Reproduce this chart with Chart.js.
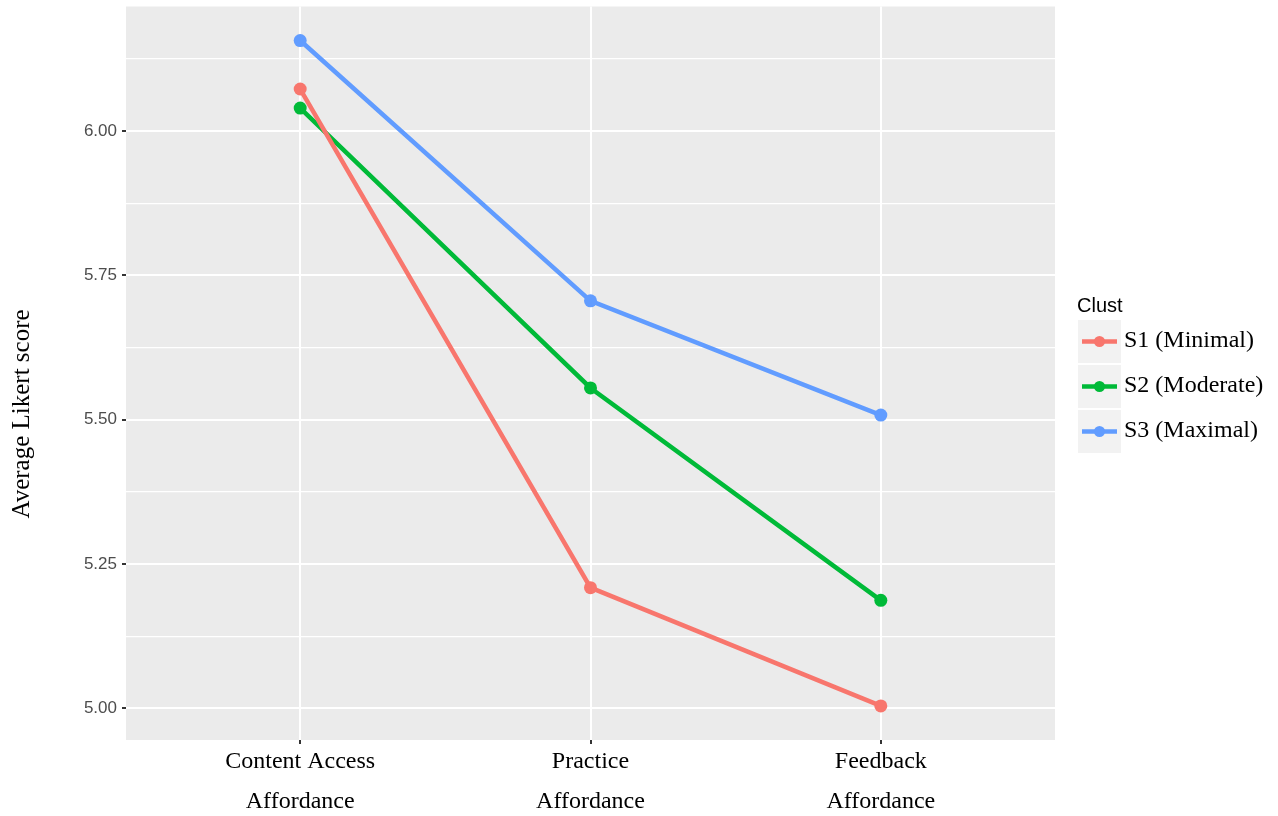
<!DOCTYPE html>
<html><head><meta charset="utf-8">
<script src="https://cdn.jsdelivr.net/npm/chart.js@4/dist/chart.umd.min.js"></script>
<style>html,body{margin:0;padding:0;background:#fff;}#wrap{width:1278px;height:816px;}</style>
</head><body><div id="wrap"><canvas id="c" width="1278" height="816"></canvas></div>
<script>
const categories = [["Content Access","Affordance"],["Practice","Affordance"],["Feedback","Affordance"]];
const seriesNames = ["S1 (Minimal)","S2 (Moderate)","S3 (Maximal)"];
const s1 = [6.073, 5.209, 5.004];
const s2 = [6.040, 5.555, 5.187];
const s3 = [6.157, 5.706, 5.508];
const yMajor = [5.00, 5.25, 5.50, 5.75, 6.00];
const yMinor = [5.125, 5.375, 5.625, 5.875, 6.125];
const yTitle = "Average Likert score";
const legendTitle = "Clust";
const colors = ["#F8766D","#00BA38","#619CFF"];

const allY = yMajor.concat(yMinor).sort((a,b)=>a-b);
const isMajor = (c)=>c.tick && yMajor.some(m=>Math.abs(m-c.tick.value)<1e-9);
const mk = (vals,i)=>({label:seriesNames[i],data:vals.map((v,k)=>({x:k+1,y:v})),borderColor:colors[i],backgroundColor:colors[i],borderWidth:4.5,pointRadius:6.5,pointHoverRadius:6.5,pointBorderWidth:0,tension:0});
const serif = '"Liberation Serif", "Times New Roman", serif';
const sans = '"Liberation Sans", Arial, sans-serif';

const panelBg = {id:'panelBg',beforeDraw(chart){const {ctx,chartArea:a}=chart;ctx.save();ctx.fillStyle='#EBEBEB';ctx.fillRect(a.left,a.top,a.right-a.left,a.bottom-a.top);ctx.restore();}};
const extras = {id:'extras',afterDraw(chart){const ctx=chart.ctx;ctx.save();
 // y-axis title
 ctx.save();ctx.translate(22,414);ctx.rotate(-Math.PI/2);ctx.fillStyle='#000';ctx.font='25px '+serif;ctx.textAlign='center';ctx.textBaseline='middle';ctx.fillText(yTitle,0,0);ctx.restore();
 // legend
 ctx.fillStyle='#000';ctx.font='20px '+sans;ctx.textBaseline='alphabetic';ctx.textAlign='left';ctx.fillText(legendTitle,1077,312);
 const tops=[320,365,410];
 chart.data.datasets.forEach((ds,i)=>{const t=tops[i];ctx.fillStyle='#F2F2F2';ctx.fillRect(1078,t,43,43);
  const cy=t+21.5;ctx.strokeStyle=ds.borderColor;ctx.lineWidth=4.5;ctx.beginPath();ctx.moveTo(1082,cy);ctx.lineTo(1117,cy);ctx.stroke();
  ctx.fillStyle=ds.borderColor;ctx.beginPath();ctx.arc(1099.5,cy,5.5,0,Math.PI*2);ctx.fill();
  ctx.fillStyle='#000';ctx.font='24px '+serif;ctx.textBaseline='middle';ctx.fillText(ds.label,1124,cy-1);});
 ctx.restore();}};

new Chart(document.getElementById('c'),{type:'line',
 data:{datasets:[mk(s1,0),mk(s2,1),mk(s3,2)]},
 options:{responsive:false,animation:false,
  layout:{padding:{top:5,right:223,left:0,bottom:0}},
  plugins:{legend:{display:false},tooltip:{enabled:false}},
  scales:{
   x:{type:'linear',min:0.4,max:3.6,
    afterBuildTicks(s){s.ticks=[1,2,3].map(v=>({value:v}));},
    afterFit(s){s.height=76;s.paddingLeft=0;s.paddingRight=0;},
    grid:{color:'#FFFFFF',lineWidth:2,drawTicks:true,tickLength:4,tickColor:'#333333'},
    border:{display:false},
    ticks:{color:'#000',padding:-2,maxRotation:0,autoSkip:false,font:{family:serif,size:24,lineHeight:40/24},
     callback:(v)=>categories[v-1]}},
   y:{type:'linear',min:4.945,max:6.216,
    afterBuildTicks(s){s.ticks=allY.map(v=>({value:v}));},
    afterFit(s){s.width=126;s.paddingTop=0;s.paddingBottom=0;},
    grid:{color:'#FFFFFF',lineWidth:(c)=>isMajor(c)?2:1.2,tickLength:4,tickColor:(c)=>isMajor(c)?'#333333':'rgba(0,0,0,0)'},
    border:{display:false},
    ticks:{color:'#4D4D4D',padding:5,autoSkip:false,font:{family:sans,size:17},
     callback:(v)=>yMajor.some(m=>Math.abs(m-v)<1e-9)?v.toFixed(2):''}}
  }},
 plugins:[panelBg,extras]});
</script></body></html>
